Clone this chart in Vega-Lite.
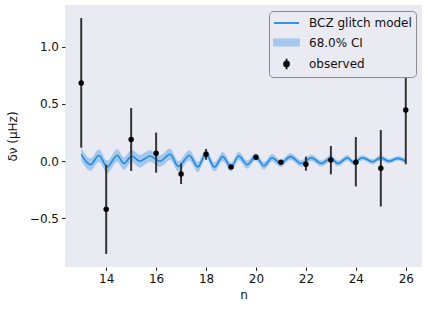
{
  "$schema": "https://vega.github.io/schema/vega-lite/v6.json",
  "width": 357,
  "height": 262,
  "autosize": {"type": "none"},
  "padding": {"left": 65, "top": 5, "right": 6, "bottom": 45},
  "background": "white",
  "config": {
    "view": {"fill": "#EAEAF2", "stroke": null},
    "font": "DejaVu Sans",
    "axis": {
      "grid": false, "domain": false, "tickColor": "#222", "tickSize": 3.5, "tickWidth": 1,
      "labelFontSize": 12, "labelColor": "#111", "titleFontSize": 12, "titleColor": "#111",
      "titleFontWeight": "normal", "labelPadding": 3
    },
    "legend": {
      "orient": "top-right", "offset": 6, "fillColor": "#EAEAF2", "strokeColor": "#8a8a8a",
      "cornerRadius": 4, "padding": 4, "labelFontSize": 12, "labelColor": "#111",
      "symbolSize": 196, "rowPadding": 5.5, "labelOffset": 20, "symbolStrokeWidth": 1.8
    }
  },
  "datasets": {
    "model": [
      {"n": 13.0, "m": 0.06, "lo": 0.005, "hi": 0.115},
      {"n": 13.37, "m": -0.03, "lo": -0.085, "hi": 0.025},
      {"n": 13.71, "m": 0.05, "lo": -0.005, "hi": 0.105},
      {"n": 14.04, "m": -0.05, "lo": -0.105, "hi": 0.005},
      {"n": 14.44, "m": 0.05, "lo": -0.005, "hi": 0.105},
      {"n": 14.71, "m": -0.02, "lo": -0.075, "hi": 0.035},
      {"n": 15.02, "m": 0.045, "lo": -0.01, "hi": 0.1},
      {"n": 15.35, "m": 0.0, "lo": -0.055, "hi": 0.055},
      {"n": 15.75, "m": 0.045, "lo": -0.005, "hi": 0.095},
      {"n": 16.15, "m": 0.0, "lo": -0.05, "hi": 0.05},
      {"n": 16.56, "m": 0.06, "lo": 0.01, "hi": 0.11},
      {"n": 16.89, "m": -0.045, "lo": -0.09, "hi": 0.0},
      {"n": 17.33, "m": 0.05, "lo": 0.005, "hi": 0.095},
      {"n": 17.67, "m": -0.05, "lo": -0.095, "hi": -0.005},
      {"n": 18.0, "m": 0.065, "lo": 0.025, "hi": 0.105},
      {"n": 18.33, "m": -0.05, "lo": -0.09, "hi": -0.01},
      {"n": 18.67, "m": 0.04, "lo": 0.0, "hi": 0.08},
      {"n": 19.0, "m": -0.05, "lo": -0.088, "hi": -0.012},
      {"n": 19.31, "m": 0.045, "lo": 0.009, "hi": 0.081},
      {"n": 19.65, "m": -0.03, "lo": -0.065, "hi": 0.005},
      {"n": 19.98, "m": 0.04, "lo": 0.006, "hi": 0.074},
      {"n": 20.32, "m": -0.04, "lo": -0.073, "hi": -0.007},
      {"n": 20.65, "m": 0.03, "lo": -0.002, "hi": 0.062},
      {"n": 20.98, "m": -0.02, "lo": -0.051, "hi": 0.011},
      {"n": 21.38, "m": 0.04, "lo": 0.01, "hi": 0.07},
      {"n": 21.82, "m": -0.02, "lo": -0.049, "hi": 0.009},
      {"n": 22.22, "m": 0.03, "lo": 0.002, "hi": 0.058},
      {"n": 22.62, "m": -0.02, "lo": -0.047, "hi": 0.007},
      {"n": 23.0, "m": 0.025, "lo": -0.001, "hi": 0.051},
      {"n": 23.28, "m": -0.02, "lo": -0.045, "hi": 0.005},
      {"n": 23.67, "m": 0.03, "lo": 0.006, "hi": 0.054},
      {"n": 23.9, "m": -0.01, "lo": -0.033, "hi": 0.013},
      {"n": 24.27, "m": 0.03, "lo": 0.008, "hi": 0.052},
      {"n": 24.67, "m": -0.005, "lo": -0.027, "hi": 0.017},
      {"n": 25.0, "m": 0.03, "lo": 0.009, "hi": 0.051},
      {"n": 25.33, "m": 0.0, "lo": -0.021, "hi": 0.021},
      {"n": 25.68, "m": 0.025, "lo": 0.005, "hi": 0.045},
      {"n": 26.0, "m": 0.0, "lo": -0.02, "hi": 0.02}
    ],
    "obs": [
      {"n": 13, "y": 0.683, "lo": 0.118, "hi": 1.25},
      {"n": 14, "y": -0.42, "lo": -0.81, "hi": -0.03},
      {"n": 15, "y": 0.19, "lo": -0.085, "hi": 0.465},
      {"n": 16, "y": 0.07, "lo": -0.10, "hi": 0.25},
      {"n": 17, "y": -0.112, "lo": -0.20, "hi": -0.02},
      {"n": 18, "y": 0.06, "lo": 0.013, "hi": 0.107},
      {"n": 19, "y": -0.05, "lo": -0.06, "hi": -0.04},
      {"n": 20, "y": 0.035, "lo": 0.027, "hi": 0.043},
      {"n": 21, "y": -0.01, "lo": -0.018, "hi": -0.002},
      {"n": 22, "y": -0.027, "lo": -0.083, "hi": 0.04},
      {"n": 23, "y": 0.01, "lo": -0.115, "hi": 0.133},
      {"n": 24, "y": -0.01, "lo": -0.22, "hi": 0.211},
      {"n": 25, "y": -0.062, "lo": -0.396, "hi": 0.272},
      {"n": 26, "y": 0.447, "lo": -0.027, "hi": 0.93}
    ],
    "legend": [
      {"n": 13, "y": 0, "series": "BCZ glitch model"},
      {"n": 13, "y": 0, "series": "68.0% CI"},
      {"n": 13, "y": 0, "series": "observed"}
    ]
  },
  "encoding": {
    "x": {
      "field": "n", "type": "quantitative",
      "scale": {"domain": [12.35, 26.65], "nice": false, "zero": false},
      "axis": {"values": [14, 16, 18, 20, 22, 24, 26], "title": "n", "titlePadding": 5}
    }
  },
  "layer": [
    {
      "data": {"name": "model"},
      "mark": {"type": "area", "interpolate": "monotone", "color": "#1e88e5", "opacity": 0.35},
      "encoding": {
        "y": {"field": "lo", "type": "quantitative",
          "scale": {"domain": [-0.924, 1.364], "nice": false, "zero": false},
          "axis": {"values": [-0.5, 0, 0.5, 1.0], "format": ".1f", "title": "δν (μHz)", "titlePadding": 10}},
        "y2": {"field": "hi"}
      }
    },
    {
      "data": {"name": "model"},
      "mark": {"type": "line", "interpolate": "monotone", "color": "#1e88e5", "strokeWidth": 1.6},
      "encoding": {"y": {"field": "m", "type": "quantitative"}}
    },
    {
      "data": {"name": "obs"},
      "mark": {"type": "rule", "color": "#333333", "strokeWidth": 2},
      "encoding": {"y": {"field": "lo", "type": "quantitative"}, "y2": {"field": "hi"}}
    },
    {
      "data": {"name": "obs"},
      "mark": {"type": "point", "filled": true, "color": "black", "size": 30, "opacity": 1},
      "encoding": {"y": {"field": "y", "type": "quantitative"}}
    },
    {
      "data": {"name": "legend"},
      "mark": {"type": "point", "filled": true, "opacity": 0},
      "encoding": {
        "y": {"field": "y", "type": "quantitative"},
        "color": {
          "field": "series", "type": "nominal", "title": null,
          "scale": {"domain": ["BCZ glitch model", "68.0% CI", "observed"], "range": ["#1e88e5", "#a3c8ee", "#111111"]},
          "legend": {
            "title": null,
            "encode": {"symbols": {"update": {
              "fill": {"scale": "color", "field": "value"},
              "stroke": {"scale": "color", "field": "value"},
              "opacity": {"value": 1},
              "fillOpacity": {"value": 1},
              "strokeOpacity": {"value": 1}
            }}}
          }
        },
        "shape": {
          "field": "series", "type": "nominal", "title": null,
          "scale": {"domain": ["BCZ glitch model", "68.0% CI", "observed"],
            "range": [
              "M-1,0H2.57",
              "M-1,-0.43H2.57V0.43H-1Z",
              "M0.79,-0.75V0.75M0.43,0A0.36,0.36 0 1,0 1.15,0A0.36,0.36 0 1,0 0.43,0Z"
            ]}
        }
      }
    }
  ]
}
